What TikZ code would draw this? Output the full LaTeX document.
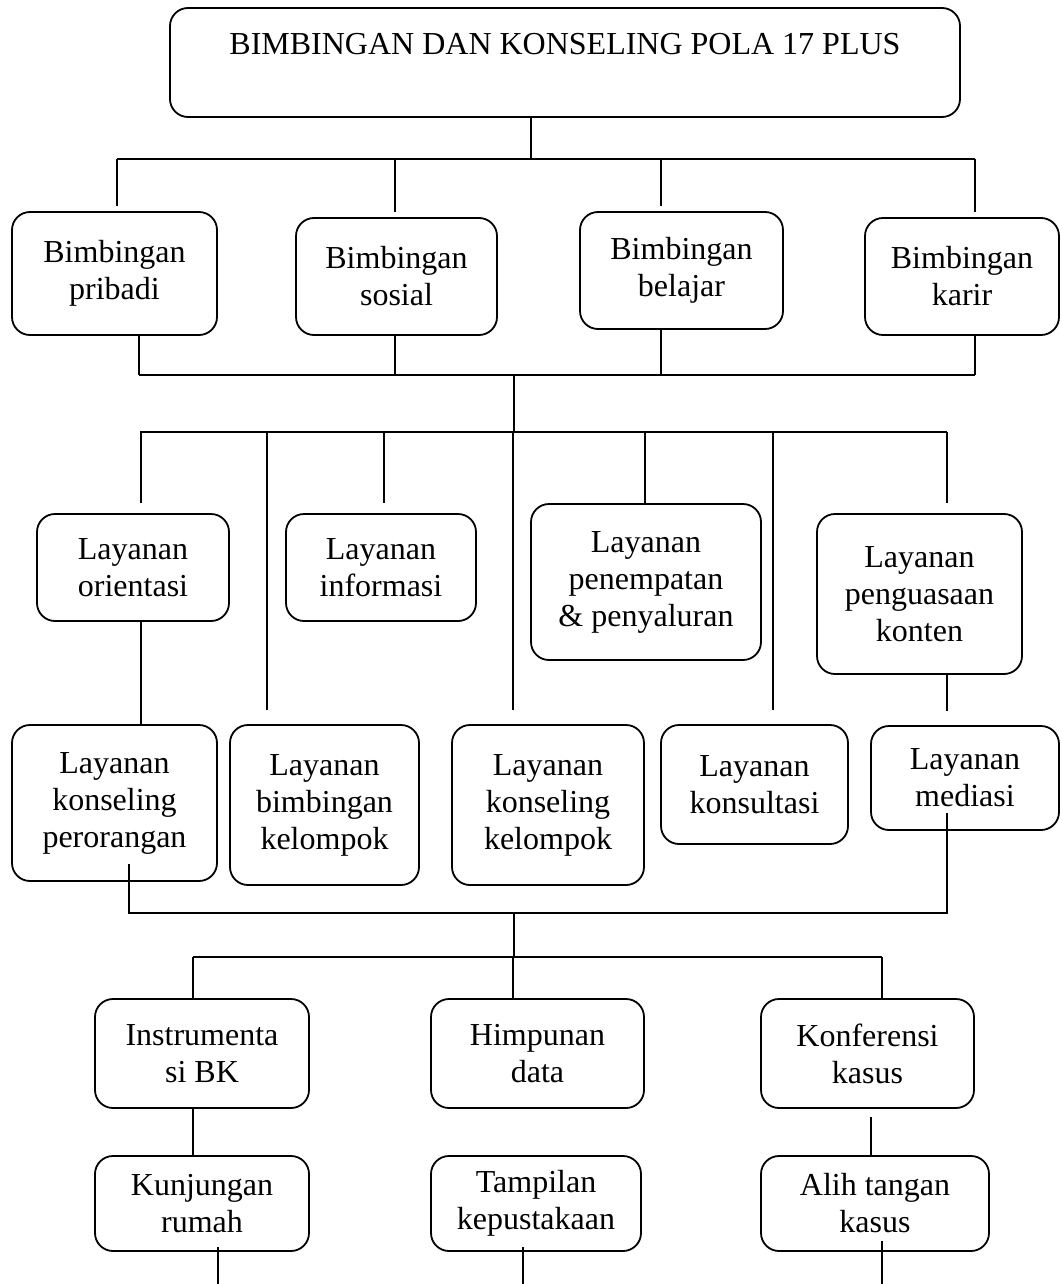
\documentclass[tikz,border=0pt]{standalone}
\usepackage{fontspec}
\setmainfont{Liberation Serif}

\begin{document}
\begin{tikzpicture}[x=1pt, y=-1pt, line width=1.8pt,
    kotak/.style={draw, rectangle, rounded corners=18pt, line width=1.8pt, align=center, inner sep=0pt, font=\fontsize{32}{37}\selectfont}]
    \useasboundingbox (0,0) rectangle (1061,1284);

    % judul
    \node[kotak, minimum width=790pt, minimum height=109pt] (utama) at (565,62.5) {BIMBINGAN DAN KONSELING POLA 17 PLUS\\ \mbox{}};

    % empat bidang bimbingan
    \node[kotak, minimum width=205pt, minimum height=123pt] (pribadi) at (114.5,273.5) {Bimbingan\\pribadi};
    \node[kotak, minimum width=201pt, minimum height=117pt] (sosial) at (396.5,276.5) {Bimbingan\\sosial};
    \node[kotak, minimum width=203pt, minimum height=117pt] (belajar) at (681.5,270.5) {Bimbingan\\belajar};
    \node[kotak, minimum width=194pt, minimum height=117pt] (karir) at (962,276.5) {Bimbingan\\karir};

    % layanan baris atas
    \node[kotak, minimum width=192pt, minimum height=107pt] (orientasi) at (133,567.5) {Layanan\\orientasi};
    \node[kotak, minimum width=190pt, minimum height=107pt] (informasi) at (381,567.5) {Layanan\\informasi};
    \node[kotak, minimum width=230pt, minimum height=156pt] (penempatan) at (646,582) {Layanan\\penempatan\\\& penyaluran};
    \node[kotak, minimum width=205pt, minimum height=160pt] (penguasaan) at (919.5,594) {Layanan\\penguasaan\\konten};

    % layanan baris bawah
    \node[kotak, minimum width=205pt, minimum height=156pt] (perorangan) at (114.5,803) {Layanan\\konseling\\perorangan};
    \node[kotak, minimum width=189pt, minimum height=160pt] (bkelompok) at (324.5,805) {Layanan\\bimbingan\\kelompok};
    \node[kotak, minimum width=192pt, minimum height=160pt] (kkelompok) at (548,805) {Layanan\\konseling\\kelompok};
    \node[kotak, minimum width=187pt, minimum height=119pt] (konsultasi) at (754.5,784.5) {Layanan\\konsultasi};
    \node[kotak, minimum width=188pt, minimum height=104pt] (mediasi) at (965,778) {Layanan\\mediasi};

    % kegiatan pendukung
    \node[kotak, minimum width=214pt, minimum height=109pt] (instrumen) at (202,1053.5) {Instrumenta\\si BK};
    \node[kotak, minimum width=213pt, minimum height=109pt] (himpunan) at (537.5,1053.5) {Himpunan\\data};
    \node[kotak, minimum width=213pt, minimum height=109pt] (konferensi) at (867.5,1053.5) {Konferensi\\kasus};
    \node[kotak, minimum width=214pt, minimum height=95pt] (kunjungan) at (202,1203.5) {Kunjungan\\rumah};
    \node[kotak, minimum width=210pt, minimum height=95pt] (tampilan) at (536,1203.5) {Tampilan\\kepustakaan};
    \node[kotak, minimum width=228pt, minimum height=95pt] (alih) at (875,1203.5) {Alih tangan\\kasus};

    % garis cabang
    \coordinate (busA1) at (117,159);
    \coordinate (busA2) at (975,159);
    \coordinate (busB1) at (139,375);
    \coordinate (busB2) at (975,375);
    \coordinate (busC1) at (140,432);
    \coordinate (busC2) at (947,432);
    \coordinate (busD) at (514,913);
    \coordinate (busE1) at (193,957);
    \coordinate (busE2) at (882,957);

    \draw (utama.south -| 531,0) -- (busA1 -| 531,0);
    \draw (busA1) -- (busA2);
    \foreach \n/\x in {pribadi/117, sosial/395, belajar/661, karir/975}
        \draw[shorten >=5pt] (busA1 -| \x,0) -- (\n.north -| \x,0);

    \foreach \n/\x in {pribadi/139, sosial/395, belajar/661, karir/975}
        \draw (\n.south -| \x,0) -- (busB1 -| \x,0);
    \draw (busB1) -- (busB2);
    \draw (busB1 -| 514,0) -- (busC1 -| 514,0);
    \draw (busC1) -- (busC2);

    \foreach \n/\x in {orientasi/141, informasi/384, penguasaan/947}
        \draw[shorten >=10pt] (busC1 -| \x,0) -- (\n.north -| \x,0);
    \draw (busC1 -| 645,0) -- (penempatan.north -| 645,0);
    \foreach \n/\x in {bkelompok/267, kkelompok/513, konsultasi/773}
        \draw[shorten >=14pt] (busC1 -| \x,0) -- (\n.north -| \x,0);

    \draw (orientasi.south -| 141,0) -- (perorangan.north -| 141,0);
    \draw[shorten >=14pt] (penguasaan.south -| 947,0) -- (mediasi.north -| 947,0);

    % ke kegiatan pendukung
    \draw ([xshift=14.5pt,yshift=18pt]perorangan.south) |- (busD) -| ([xshift=-18pt,yshift=18pt]mediasi.south);
    \draw (busD) -- (busD |- busE1);
    \draw (busE1) -- (busE2);
    \foreach \n/\x in {instrumen/193, himpunan/513, konferensi/882}
        \draw (busE1 -| \x,0) -- (\n.north -| \x,0);

    \draw (instrumen.south -| 193,0) -- (kunjungan.north -| 193,0);
    \draw[shorten <=8pt] (konferensi.south -| 871,0) -- (alih.north -| 871,0);

    % ujung bawah
    \coordinate (ujung) at (0,1284);
    \draw ([xshift=16pt,yshift=5pt]kunjungan.south) -- (ujung -| 218,0);
    \draw ([xshift=-13pt,yshift=5pt]tampilan.south) -- (ujung -| 523,0);
    \draw ([xshift=7pt,yshift=11pt]alih.south) -- (ujung -| 882,0);
\end{tikzpicture}
\end{document}
